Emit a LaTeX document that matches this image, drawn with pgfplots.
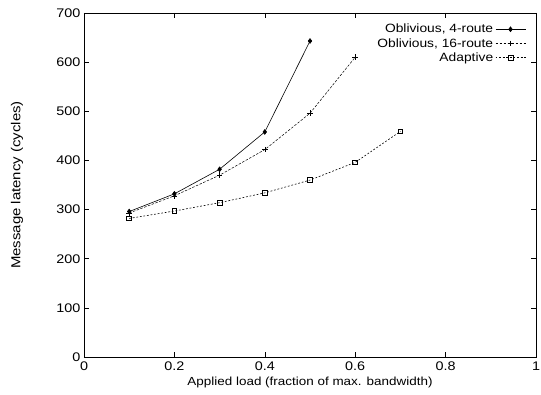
\documentclass[border=0pt]{standalone}
\usepackage{fontspec}
\setmainfont{Liberation Sans}[FakeStretch=1.15]
\usepackage{pgfplots}
\pgfplotsset{compat=1.18}
\begin{document}
\begin{tikzpicture}
\begin{axis}[
  scale only axis,
  width=452pt, height=344pt,
  xmin=0, xmax=1, ymin=0, ymax=700,
  xtick={0,0.2,0.4,0.6,0.8,1},
  ytick={0,100,200,300,400,500,600,700},
  xticklabels={0,0.2,0.4,0.6,0.8,1},
  tick align=inside,
  major tick length=5pt,
  tick style={black, line width=0.6pt},
  axis line style={line width=0.8pt},
  /pgf/number format/assume math mode=true,
  xticklabel style={font=\fontsize{12.5}{15}\selectfont, yshift=-1pt},
  yticklabel style={font=\fontsize{12.5}{15}\selectfont},
  xlabel={Applied load (fraction of max. bandwidth)},
  ylabel={Message latency (cycles)},
  every axis x label/.style={at={(axis description cs:0.5,0)}, anchor=base, yshift=-29pt, font=\fontsize{11.7}{14}\selectfont},
  every axis y label/.style={at={(axis description cs:-0.148,0.5)}, rotate=90, anchor=center, font=\fontsize{13}{16}\selectfont},
  legend plot pos=right,
  legend style={at={(axis description cs:1,1)}, anchor=north east, xshift=-10pt, yshift=-9pt,
    draw=none, fill=none, inner sep=0pt,
    font=\fontsize{12}{14}\selectfont, row sep=0pt,
    cells={anchor=east}},
  legend image code/.code={\draw[#1] (0pt,0pt) -- (30pt,0pt); \draw[#1, solid] plot coordinates {(15pt,0pt)};},
]
\addplot[black, line width=0.6pt, mark=diamond*, mark size=2.4pt, mark options={solid}]
  coordinates {(0.1,296) (0.2,332) (0.3,382) (0.4,458) (0.5,643)};
\addlegendentry{Oblivious, 4-route}
\addplot[black, line width=0.5pt, dash pattern=on 2.5pt off 1.5pt, mark=+, mark size=2.8pt, mark options={solid}]
  coordinates {(0.1,293) (0.2,328) (0.3,370) (0.4,422) (0.5,496) (0.6,610)};
\addlegendentry{Oblivious, 16-route}
\addplot[black, line width=0.6pt, dash pattern=on 1.8pt off 1.8pt, mark=square, mark size=2.4pt, mark options={solid, line width=0.7pt}]
  coordinates {(0.1,282) (0.2,297) (0.3,314) (0.4,334) (0.5,360) (0.6,396) (0.7,459)};
\addlegendentry{Adaptive}
\end{axis}
\pgfresetboundingbox
\path[use as bounding box] (current axis.south west) ++(-84pt,-38pt) rectangle ([xshift=5pt,yshift=13pt]current axis.north east);
\end{tikzpicture}
\end{document}
